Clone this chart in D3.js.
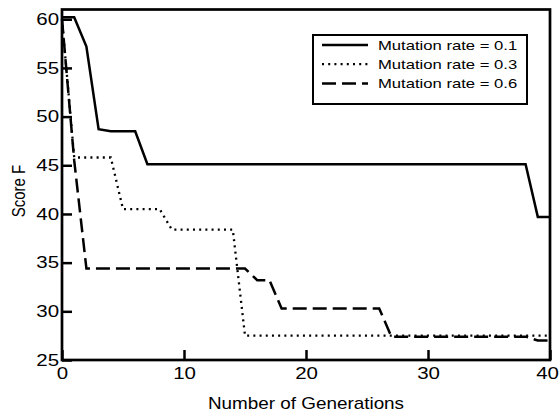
<!DOCTYPE html>
<html>
<head>
<meta charset="utf-8">
<script src="https://cdn.jsdelivr.net/npm/d3@7"></script>
<style>
  body { margin: 0; background: #fff; }
  svg { display: block; font-family: 'Liberation Sans', Arial, sans-serif; }
</style>
</head>
<body>
<div id="chart"></div>
<script>
// Data, one value per generation
const generations = [0, 1, 2, 3, 4, 5, 6, 7, 8, 9, 10, 11, 12, 13, 14, 15, 16, 17, 18, 19, 20,
  21, 22, 23, 24, 25, 26, 27, 28, 29, 30, 31, 32, 33, 34, 35, 36, 37, 38, 39, 40];

const rate01 = [60.2, 60.2, 57.2, 48.7, 48.5, 48.5, 48.5, 45.1, 45.1, 45.1, 45.1,
  45.1, 45.1, 45.1, 45.1, 45.1, 45.1, 45.1, 45.1, 45.1, 45.1,
  45.1, 45.1, 45.1, 45.1, 45.1, 45.1, 45.1, 45.1, 45.1, 45.1,
  45.1, 45.1, 45.1, 45.1, 45.1, 45.1, 45.1, 45.1, 39.7, 39.7];

const rate03 = [60.0, 45.8, 45.8, 45.8, 45.8, 40.5, 40.5, 40.5, 40.5, 38.4, 38.4,
  38.4, 38.4, 38.4, 38.4, 27.5, 27.5, 27.5, 27.5, 27.5, 27.5,
  27.5, 27.5, 27.5, 27.5, 27.5, 27.5, 27.5, 27.5, 27.5, 27.5,
  27.5, 27.5, 27.5, 27.5, 27.5, 27.5, 27.5, 27.5, 27.5, 27.5];

const rate06 = [60.0, 45.5, 34.4, 34.4, 34.4, 34.4, 34.4, 34.4, 34.4, 34.4, 34.4,
  34.4, 34.4, 34.4, 34.4, 34.4, 33.2, 33.2, 30.3, 30.3, 30.3,
  30.3, 30.3, 30.3, 30.3, 30.3, 30.3, 27.4, 27.4, 27.4, 27.4,
  27.4, 27.4, 27.4, 27.4, 27.4, 27.4, 27.4, 27.4, 27.0, 27.0];

const seriesLabels = ['Mutation rate = 0.1', 'Mutation rate = 0.3', 'Mutation rate = 0.6'];
const xTicks = [0, 10, 20, 30, 40];
const yTicks = [25, 30, 35, 40, 45, 50, 55, 60];

const series = [rate01, rate03, rate06].map((vals, i) => ({
  label: seriesLabels[i],
  points: generations.map((g, j) => ({ g, v: vals[j] })),
}));
const dashes = [null, '2,4.2', '14,6'];

// Canvas
const width = 559;
const height = 413;
const plotLeft = 62;
const plotRight = 550;
const plotTop = 9.5;
const plotBottom = 360;
const stretch = 1.28; // the picture's text is a bit wide

const svg = d3.select('#chart').append('svg')
  .attr('width', width)
  .attr('height', height);

const xScale = d3.scaleLinear().domain([0, 40]).range([plotLeft, plotRight]);
const yScale = d3.scaleLinear().domain([25, 61]).range([plotBottom, plotTop]);

// Lines
const line = d3.line().x((d) => xScale(d.g)).y((d) => yScale(d.v));
series.forEach((s, i) => {
  svg.append('path')
    .datum(s.points)
    .attr('fill', 'none')
    .attr('stroke', '#000')
    .attr('stroke-width', i === 1 ? 2.3 : 2.5)
    .attr('stroke-dasharray', dashes[i])
    .attr('d', line);
});

// Axes, ticks point inward
const xAxis = d3.axisBottom(xScale).tickValues(xTicks).tickSizeInner(-10).tickSizeOuter(0).tickPadding(8);
const yAxis = d3.axisLeft(yScale).tickValues(yTicks).tickSizeInner(-10).tickSizeOuter(0).tickPadding(3);

const gx = svg.append('g').attr('transform', `translate(0, ${plotBottom})`).call(xAxis);
const gy = svg.append('g').attr('transform', `translate(${plotLeft}, 0)`).call(yAxis);

[gx, gy].forEach((g) => {
  g.select('.domain').remove();
  g.selectAll('.tick line').attr('stroke-width', 2.5);
  g.selectAll('.tick text')
    .attr('font-size', 16)
    .attr('font-family', 'Liberation Sans, Arial, sans-serif')
    .attr('fill', '#000');
});
gx.selectAll('.tick text')
  .attr('x', (d) => (d === 40 ? -3 / stretch : 0)) // last label sits at the edge
  .attr('transform', `scale(${stretch},1)`);
gy.selectAll('.tick text')
  .attr('x', -3 / stretch)
  .attr('transform', `scale(${stretch},1)`);

// Frame
svg.append('rect')
  .attr('x', plotLeft)
  .attr('y', plotTop)
  .attr('width', plotRight - plotLeft)
  .attr('height', plotBottom - plotTop)
  .attr('fill', 'none')
  .attr('stroke', '#000')
  .attr('stroke-width', 2.7);

// Axis labels
svg.append('text')
  .attr('transform', `translate(${(plotLeft + plotRight) / 2}, 409) scale(1.18,1)`)
  .attr('text-anchor', 'middle')
  .attr('font-size', 16)
  .text('Number of Generations');

svg.append('text')
  .attr('transform', 'translate(25, 191) scale(1.25,1) rotate(-90)')
  .attr('text-anchor', 'middle')
  .attr('font-size', 15)
  .text('Score F');

// Legend
const legend = svg.append('g');
legend.append('rect')
  .attr('x', 313)
  .attr('y', 35)
  .attr('width', 214)
  .attr('height', 69)
  .attr('fill', '#fff')
  .attr('stroke', '#000')
  .attr('stroke-width', 2);

series.forEach((s, i) => {
  const y = 45 + i * 19.2;
  legend.append('line')
    .attr('x1', 322)
    .attr('x2', 368)
    .attr('y1', y)
    .attr('y2', y)
    .attr('stroke', '#000')
    .attr('stroke-width', i === 1 ? 2.3 : 2.5)
    .attr('stroke-dasharray', dashes[i]);
  legend.append('text')
    .attr('transform', `translate(378, ${y + 4.6}) scale(${stretch},1)`)
    .attr('font-size', 13)
    .text(s.label);
});
</script>
</body>
</html>
